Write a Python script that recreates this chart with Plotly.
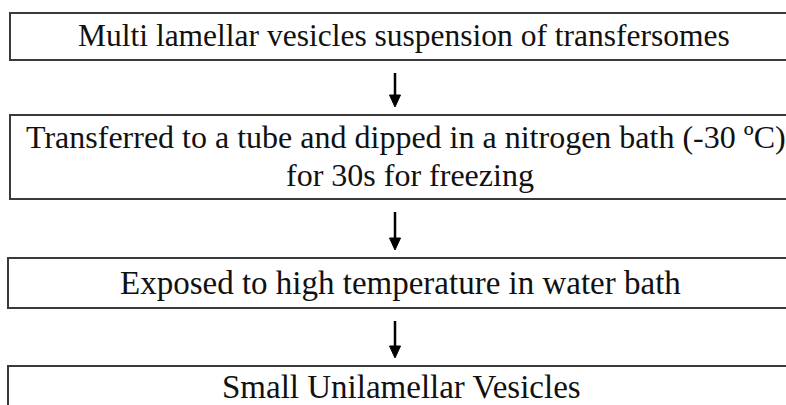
import plotly.graph_objects as go

# Flowchart content
step_lines = [
    ["Multi lamellar vesicles suspension of transfersomes"],
    ["Transferred to a tube and dipped in a nitrogen bath (-30 ºC)", "for 30s for freezing"],
    ["Exposed to high temperature in water bath"],
    ["Small Unilamellar Vesicles"],
]

W, H = 786, 405
# layout geometry (pixels, y downward)
box_tops = [13, 115, 258, 366]
box_bottoms = [60, 199, 308, 430]
box_lefts = [10, 10, 8, 8]
box_right = 805
text_cx = [404, 406, 400, 401.5]
text_cy = [35.5, 137, 283, 387]
text_size = [31.5, 32, 33, 33]
arrow_x = 395
line_gap = 38
font_family = "Liberation Serif, Times New Roman, serif"
line_color = "#3a3a3a"

fig = go.Figure()
shapes = []
annotations = []
for i, lines in enumerate(step_lines):
    t, b, l = box_tops[i], box_bottoms[i], box_lefts[i]
    shapes.append(dict(type="rect", x0=l, x1=box_right, y0=t, y1=b,
                       line=dict(color=line_color, width=2), fillcolor="rgba(0,0,0,0)",
                       layer="above"))
    for k, txt in enumerate(lines):
        y = text_cy[i] + k * line_gap
        cx = text_cx[i] + (4 if (i == 1 and k == 1) else 0)
        annotations.append(dict(x=cx, y=y, text=txt, showarrow=False,
                                xanchor="center", yanchor="middle",
                                font=dict(family=font_family, size=text_size[i], color="#111111")))
    # arrow to next box
    if i < 3:
        y_start = b + 13
        y_end = box_tops[i + 1] - 8
        head = 12
        shapes.append(dict(type="line", x0=arrow_x, x1=arrow_x, y0=y_start, y1=y_end - head + 2,
                           line=dict(color="black", width=2.5)))
        shapes.append(dict(type="path",
                           path=f"M {arrow_x-5.5},{y_end-head} L {arrow_x+5.5},{y_end-head} L {arrow_x},{y_end} Z",
                           fillcolor="black", line=dict(color="black", width=1)))

fig.update_layout(
    width=W, height=H,
    margin=dict(l=0, r=0, t=0, b=0),
    paper_bgcolor="white", plot_bgcolor="white",
    xaxis=dict(range=[0, W], visible=False, fixedrange=True),
    yaxis=dict(range=[H, 0], visible=False, fixedrange=True),
    shapes=shapes, annotations=annotations, showlegend=False,
)
fig.write_html("out.html", config={"displayModeBar": False},
               post_script="document.body.style.margin='0';document.body.style.overflow='hidden';")
